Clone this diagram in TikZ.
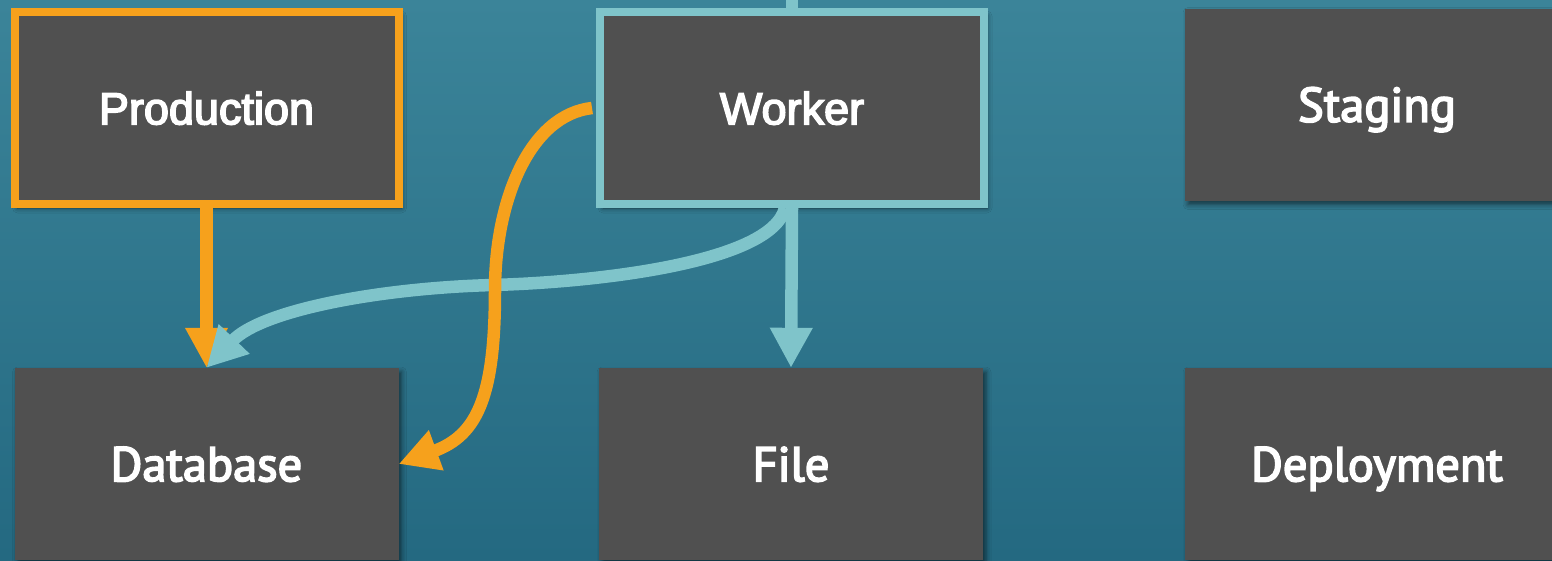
\documentclass[tikz,border=0pt]{standalone}
\usepackage{fontspec}
\setmainfont[UprightFeatures={FakeBold=3.5}]{Liberation Sans}
\newfontfamily\ptsans[UprightFeatures={FakeBold=3.5}]{PT Sans}
\usetikzlibrary{arrows.meta,shadows.blur}
\definecolor{bgtop}{HTML}{3B8499}
\definecolor{bgbot}{HTML}{246981}
\definecolor{boxgray}{HTML}{505050}
\definecolor{orng}{HTML}{F6A11C}
\definecolor{lteal}{HTML}{7FC4CA}
\begin{document}
\begin{tikzpicture}[x=1pt,y=-1pt,
  box/.style={fill=boxgray, minimum width=384pt, minimum height=192pt, inner sep=0pt, text=white,
    text depth=0pt,
    blur shadow={shadow xshift=3pt, shadow yshift=-4pt, shadow blur radius=5pt, shadow opacity=55}},
  arialtxt/.style={font=\fontsize{45}{54}\selectfont},
  pttxt/.style={font=\ptsans\fontsize{48.5}{58}\selectfont},
  obox/.style={box, draw=orng, line width=8pt},
  tbox/.style={box, draw=lteal, line width=8pt},
  oarrow/.style={draw=orng, line width=12.5pt, -{Triangle[length=40pt,width=40pt]}},
  tarrow/.style={draw=lteal, line width=12.5pt, -{Triangle[length=40pt,width=40pt]}},
  tline/.style={draw=lteal, line width=12.5pt},
]
\useasboundingbox (0,0) rectangle (1552,560);
\clip (0,0) rectangle (1552,560);
\shade[top color=bgtop, bottom color=bgbot] (0,0) rectangle (1552,560);

\node[obox, arialtxt] (production) at (206.5,108) {Production};
\node[tbox, arialtxt] (worker) at (792,108) {Worker};
\node[box, pttxt] (staging) at (1377,104.5) {Staging};
\node[box, pttxt] (database) at (206.5,464) {Database};
\node[box, pttxt] (file) at (791,464) {File};
\node[box, pttxt] (deployment) at (1377,464) {Deployment};

\coordinate (topend) at (792,-4);
\coordinate (tmid) at (493,285);
\coordinate (omid) at (495,290);

\draw[tline] (topend) -- (worker.north);
\draw[oarrow] (production.south) -- (database.north);
\draw[tarrow] (worker.south) -- (file.north);
\draw[tarrow] ([xshift=-7pt]worker.south) .. controls (772,262) and (600,282) .. (tmid)
   .. controls (380,288) and (262,310) .. (database.north);
\draw[oarrow] ([xshift=-4pt]worker.west) .. controls (530,115) and (495,200) .. (omid)
   .. controls (495,395) and (478,435) .. (database.east);
\end{tikzpicture}
\end{document}
